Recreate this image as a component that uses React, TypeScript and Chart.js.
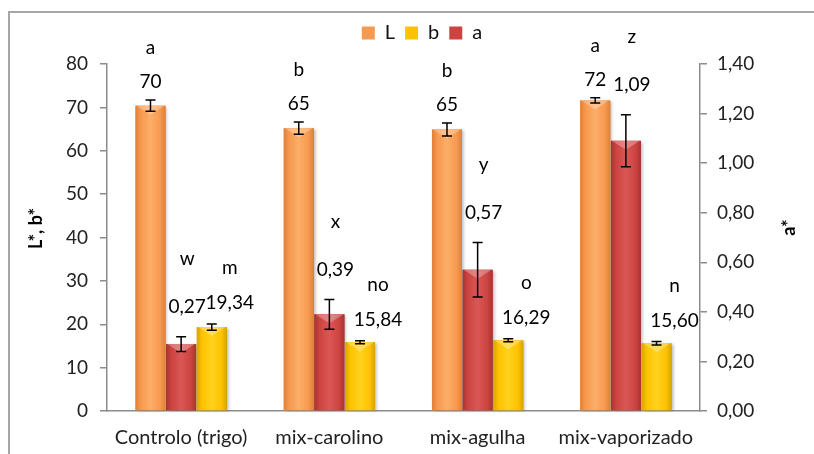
import React, { useEffect, useRef } from "react";
import { Chart, registerables } from "chart.js";

Chart.register(...registerables);

// Samples on the x axis
const categories = ["Controlo (trigo)", "mix-carolino", "mix-agulha", "mix-vaporizado"];

// L* (left axis)
const lValues = [70.4, 65.2, 64.9, 71.6];
const lErrors = [1.3, 1.4, 1.5, 0.6];
const lLetters = ["a", "b", "b", "a"];

// a* (right axis)
const aValues = [0.27, 0.39, 0.57, 1.09];
const aErrors = [0.03, 0.06, 0.11, 0.105];
const aLetters = ["w", "x", "y", "z"];

// b* (left axis)
const bValues = [19.34, 15.84, 16.29, 15.6];
const bErrors = [0.7, 0.35, 0.35, 0.4];
const bLetters = ["m", "no", "o", "n"];

// Axis ranges
const leftMax = 80;
const leftStep = 10;
const rightMax = 1.4;
const rightStep = 0.2;

const FONT = "Lato, 'Open Sans', sans-serif";
const comma = (v: number, d: number) => v.toFixed(d).replace(".", ",");

type Palette = { edge: string; mid: string; light: string };
const palettes: Palette[] = [
  { edge: "#E0803A", mid: "#F7994E", light: "#FCAE6A" },
  { edge: "#A93230", mid: "#CC4442", light: "#DA5755" },
  { edge: "#D9A400", mid: "#FDC300", light: "#FFD21E" },
];

const seriesMeta = [
  { errors: lErrors, letters: lLetters, fmt: (v: number) => String(Math.round(v)), labelGap: 18, letterGap: 34, dx: 0 },
  { errors: aErrors, letters: aLetters, fmt: (v: number) => comma(v, 2), labelGap: 30, letterGap: 48, dx: 6 },
  { errors: bErrors, letters: bLetters, fmt: (v: number) => comma(v, 2), labelGap: 21, letterGap: 35, dx: 18 },
];

const barPainter = {
  id: "barPainter",
  beforeDraw(chart: any) {
    const { ctx, width } = chart;
    ctx.save();
    ctx.fillStyle = "#ffffff";
    ctx.fillRect(0, 0, width, chart.height);
    ctx.strokeStyle = "#A6A6A6";
    ctx.lineWidth = 2;
    ctx.beginPath();
    ctx.moveTo(9, chart.height + 2);
    ctx.lineTo(9, 12);
    ctx.lineTo(width + 2, 12);
    ctx.stroke();
    ctx.restore();
  },
  afterDatasetsDraw(chart: any) {
    const { ctx } = chart;
    chart.data.datasets.forEach((ds: any, di: number) => {
      const meta = chart.getDatasetMeta(di);
      const pal = palettes[di];
      meta.data.forEach((el: any) => {
        const { x, y, base, width } = el.getProps(["x", "y", "base", "width"], true);
        const left = x - width / 2;
        const right = x + width / 2;
        const g = ctx.createLinearGradient(left, 0, right, 0);
        g.addColorStop(0, pal.edge);
        g.addColorStop(0.18, pal.mid);
        g.addColorStop(0.5, pal.light);
        g.addColorStop(0.82, pal.mid);
        g.addColorStop(1, pal.edge);
        ctx.save();
        ctx.shadowColor = "rgba(0,0,0,0.28)";
        ctx.shadowBlur = 3;
        ctx.shadowOffsetX = 2;
        ctx.shadowOffsetY = 1;
        ctx.fillStyle = g;
        ctx.fillRect(left, y, width, base - y);
        ctx.restore();
        // bevelled top
        ctx.save();
        ctx.fillStyle = "rgba(255,255,255,0.28)";
        ctx.beginPath();
        ctx.moveTo(left + 1, y);
        ctx.lineTo(right - 1, y);
        ctx.lineTo(x, y + 9);
        ctx.closePath();
        ctx.fill();
        ctx.restore();
      });
    });
  },
  afterDraw(chart: any) {
    const { ctx, chartArea } = chart;
    chart.data.datasets.forEach((ds: any, di: number) => {
      const meta = chart.getDatasetMeta(di);
      const scale = chart.scales[ds.yAxisID];
      const info = seriesMeta[di];
      meta.data.forEach((el: any, i: number) => {
        const v = ds.data[i];
        const err = info.errors[i];
        const x = el.x;
        const yTop = scale.getPixelForValue(v + err);
        const yBot = scale.getPixelForValue(v - err);
        // error bar
        ctx.save();
        ctx.strokeStyle = "#000";
        ctx.lineWidth = 1.5;
        ctx.beginPath();
        ctx.moveTo(x, yTop);
        ctx.lineTo(x, yBot);
        ctx.moveTo(x - 5, yTop);
        ctx.lineTo(x + 5, yTop);
        ctx.moveTo(x - 5, yBot);
        ctx.lineTo(x + 5, yBot);
        ctx.stroke();
        ctx.restore();
        // value and significance letter
        const labelY = yTop - info.labelGap;
        ctx.save();
        ctx.fillStyle = "#000";
        ctx.font = `19px ${FONT}`;
        ctx.textAlign = "center";
        ctx.textBaseline = "middle";
        ctx.fillText(info.fmt(v), x + info.dx, labelY);
        ctx.fillText(info.letters[i], x + info.dx, labelY - info.letterGap);
        ctx.restore();
      });
    });
    // axis titles
    const midY = (chartArea.top + chartArea.bottom) / 2;
    ctx.save();
    ctx.fillStyle = "#000";
    ctx.font = `bold 18px ${FONT}`;
    ctx.textAlign = "center";
    ctx.textBaseline = "middle";
    ctx.translate(36, midY - 9);
    ctx.rotate(-Math.PI / 2);
    ctx.fillText("L*, b*", 0, 0);
    ctx.restore();
    ctx.save();
    ctx.fillStyle = "#000";
    ctx.font = `bold 18px ${FONT}`;
    ctx.textAlign = "center";
    ctx.textBaseline = "middle";
    ctx.translate(789, midY - 10);
    ctx.rotate(-Math.PI / 2);
    ctx.fillText("a*", 0, 0);
    ctx.restore();
  },
};

const legendRank = [0, 2, 1];

export default function App() {
  const canvasRef = useRef<HTMLCanvasElement | null>(null);

  useEffect(() => {
    const canvas = canvasRef.current;
    if (!canvas) return;
    const axisColor = "#8C8C8C";
    const tickFont = { family: FONT, size: 19 };
    const chart = new Chart(canvas, {
      type: "bar",
      data: {
        labels: categories,
        datasets: [
          { label: "L", data: lValues, yAxisID: "y", backgroundColor: palettes[0].mid },
          { label: "a", data: aValues, yAxisID: "y1", backgroundColor: palettes[1].mid },
          { label: "b", data: bValues, yAxisID: "y", backgroundColor: palettes[2].mid },
        ],
      },
      options: {
        animation: false,
        responsive: false,
        maintainAspectRatio: false,
        datasets: { bar: { categoryPercentage: 0.62, barPercentage: 0.98 } },
        layout: { padding: { top: 13, left: 30, right: 0, bottom: 0 } },
        plugins: {
          tooltip: { enabled: false },
          legend: {
            position: "top",
            labels: {
              font: { family: FONT, size: 20 },
              color: "#111",
              boxWidth: 13,
              boxHeight: 13,
              padding: 10,
              sort: (p: any, q: any) => legendRank[p.datasetIndex] - legendRank[q.datasetIndex],
            },
          },
        },
        scales: {
          x: {
            grid: { display: false, drawTicks: false },
            border: { display: true, color: axisColor, width: 1.5 },
            ticks: { font: { family: FONT, size: 20 }, color: "#222", padding: 15, maxRotation: 0 },
            afterFit: (s: any) => {
              s.height = 43;
            },
          },
          // empty spacer band between the legend and the plot area
          xTop: {
            type: "category",
            position: "top",
            grid: { display: false, drawTicks: false },
            border: { display: false },
            ticks: { display: false },
            afterFit: (s: any) => {
              s.height = 11;
            },
          },
          y: {
            position: "left",
            min: 0,
            max: leftMax,
            grid: { drawOnChartArea: false, drawTicks: true, tickLength: 7, color: axisColor, lineWidth: 1.5 },
            border: { display: true, color: axisColor, width: 1.5 },
            ticks: { stepSize: leftStep, font: tickFont, color: "#222", padding: 12 },
            afterFit: (s: any) => {
              s.width = 77;
            },
          },
          y1: {
            position: "right",
            min: 0,
            max: rightMax,
            grid: { drawOnChartArea: false, drawTicks: true, tickLength: 7, color: axisColor, lineWidth: 1.5 },
            border: { display: true, color: axisColor, width: 1.5 },
            ticks: {
              stepSize: rightStep,
              font: tickFont,
              color: "#222",
              padding: 10,
              callback: (v: any) => comma(Number(v), 2),
            },
            afterFit: (s: any) => {
              s.width = 114;
            },
          },
        },
      } as any,
      plugins: [barPainter],
    });
    return () => chart.destroy();
  }, []);

  return (
    <div style={{ position: "fixed", left: 0, top: 0, width: 814, height: 454, overflow: "hidden", background: "#fff" }}>
      <canvas ref={canvasRef} width={814} height={454} style={{ width: 814, height: 454, display: "block" }} />
    </div>
  );
}
